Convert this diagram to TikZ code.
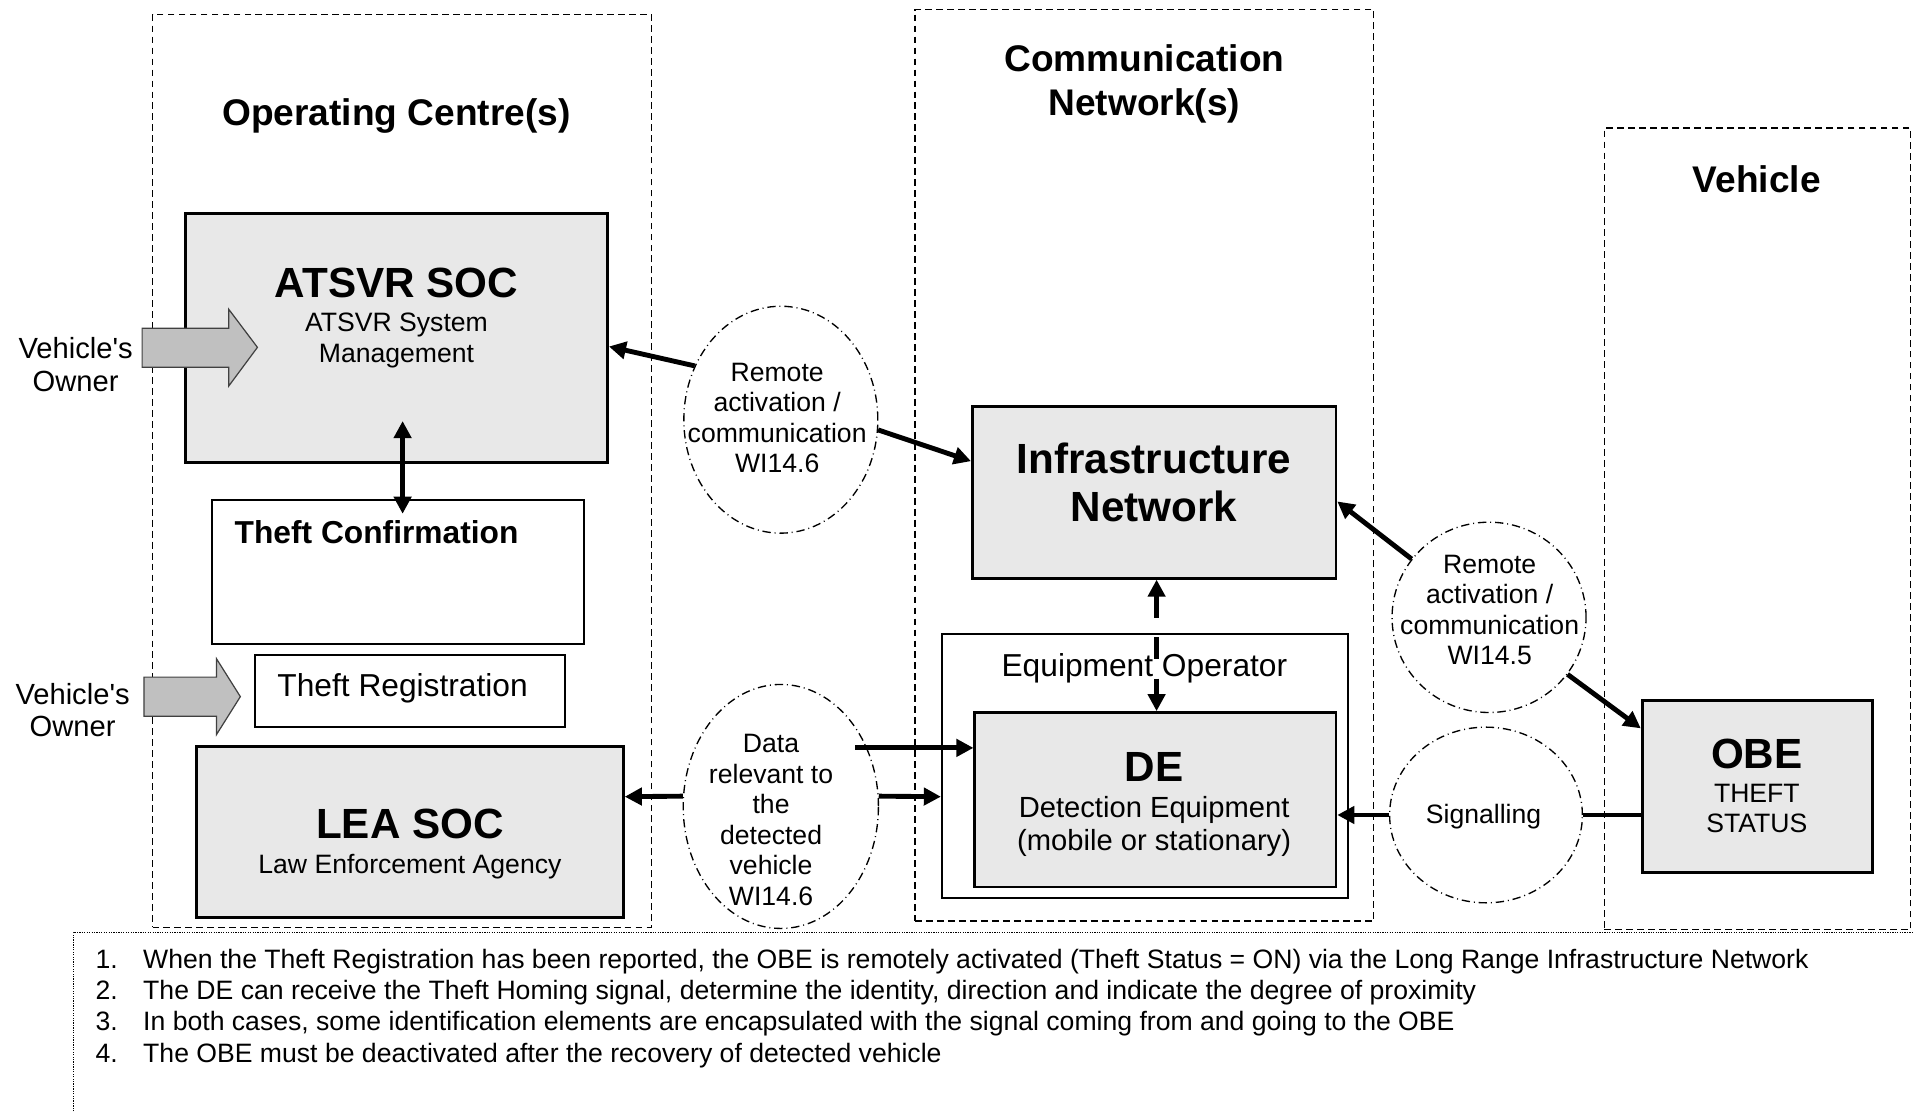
\documentclass[tikz,border=0pt]{standalone}
\usepackage{fontspec}
\setmainfont{Liberation Sans}
\usetikzlibrary{arrows.meta,shapes.geometric,fit}

\definecolor{boxgray}{HTML}{E8E8E8}
\definecolor{blockgray}{HTML}{C0C0C0}

% straight apostrophe, bypassing the TeX quote mapping
\newcommand\straightq{\XeTeXglyph\XeTeXcharglyph39\relax}

% font sizes used in the diagram
\newcommand\szA{\fontsize{10.9}{12.5}\selectfont}
\newcommand\szB{\fontsize{11.95}{13.5}\selectfont}
\newcommand\szC{\fontsize{13}{15.6}\selectfont}
\newcommand\szD{\fontsize{15.2}{18}\selectfont}
\newcommand\szE{\fontsize{17.3}{19.5}\selectfont}

\tikzset{
  region/.style={draw, line width=0.55pt, dash pattern=on 2.8pt off 1.7pt, inner sep=0pt},
  graybox/.style={draw, line width=1.1pt, fill=boxgray, inner sep=0pt},
  whitebox/.style={draw, line width=0.9pt, fill=white, inner sep=0pt},
  opbox/.style={draw, line width=0.8pt, fill=white, inner sep=0pt},
  bubble/.style={ellipse, draw, line width=0.55pt,
    dash pattern=on 3.4pt off 1.6pt on 0.4pt off 1.6pt, inner sep=0pt},
  txt/.style={inner sep=0pt, align=center},
  notetxt/.style={inner sep=0pt, font=\szA},
  link/.style={line width=2pt, -{Triangle[length=7pt,width=7pt]}},
  dlink/.style={line width=2pt, {Triangle[length=7pt,width=7pt]}-{Triangle[length=7pt,width=7pt]}},
  plainlink/.style={line width=2pt},
  blockarrow/.style={fill=blockgray, draw=black!75, line width=0.5pt},
  notesline/.style={line width=0.5pt, dash pattern=on 0.5pt off 0.5pt},
}

\begin{document}
\begin{tikzpicture}[x=0.5pt, y=-0.5pt]
\useasboundingbox (0,0) rectangle (1568,911);

% --- domains ---
\node[region, fit={(125,12)(534,760)}] (opc) {};
\node[region, fit={(750,8)(1126,755)}] (comm) {};
\node[region, fit={(1315,105)(1566,762)}] (veh) {};

\node[txt, font=\szD\bfseries] (opctitle) at (325,95) {Operating Centre(s)};
\node[txt, font=\szD\bfseries] (commtitle) at (938,69) {Communication\\Network(s)};
\node[txt, font=\szD\bfseries] (vehtitle) at (1440,147) {Vehicle};

% --- notes frame ---
\draw[notesline] (60,911) -- (60,764) -- (1568,764);

% --- system blocks ---
\node[graybox, fit={(152,175)(498,379)}] (atsvr) {};
\node[whitebox, fit={(174,410)(479,528)}] (conf) {};
\node[whitebox, fit={(209,537)(463,596)}] (reg) {};
\node[graybox, fit={(161,612)(511,752)}] (lea) {};
\node[graybox, fit={(797,333)(1095,474)}] (infra) {};
\node[opbox, fit={(772,520)(1105,736)}] (eqop) {};
\node[graybox, fit={(799,584)(1095,727)}] (de) {};
\node[graybox, fit={(1346,574)(1535,715)}] (obe) {};

\node[txt, font=\szE\bfseries] (atsvrname) at (325,232) {ATSVR SOC};
\node[txt, font=\szA] (atsvrsub) at (325,279) {ATSVR System\\Management};
\node[txt, font=\szC\bfseries, anchor=west] (conftxt) at (192,436) {Theft Confirmation};
\node[txt, font=\szC, anchor=west] (regtxt) at (227,564) {Theft Registration};
\node[txt, font=\szE\bfseries] (leaname) at (336,675) {LEA SOC};
\node[txt, font=\szA] (leasub) at (336,710) {Law Enforcement Agency};
\node[txt, font=\szE\bfseries] (infratxt) at (946,395.5) {Infrastructure\\Network};
\node[txt, font=\szC] (eqoptxt) at (938,548) {Equipment Operator};
\node[txt, font=\szE\bfseries] (dename) at (946,629) {DE};
\node[txt, font=\szB] (desub) at (946,677.5) {Detection Equipment\\(mobile or stationary)};
\node[txt, font=\szE\bfseries] (obename) at (1440,618) {OBE};
\node[txt, font=\szA] (obesub) at (1440,662.5) {THEFT\\STATUS};

% --- interfaces ---
\node[bubble, minimum width=79.5pt, minimum height=93pt] (e1) at (640,344) {};
\node[bubble, minimum width=80pt, minimum height=100pt] (e2) at (640,661) {};
\node[bubble, minimum width=79.5pt, minimum height=78pt] (e3) at (1220.5,506) {};
\node[bubble, minimum width=79pt, minimum height=72pt] (e4) at (1218,668) {};

\node[txt, font=\szA] (e1t) at (637,342.5) {Remote\\activation /\\communication\\WI14.6};
\node[txt, font=\szA] (e2t) at (632,672) {Data\\relevant to\\the\\detected\\vehicle\\WI14.6};
\node[txt, font=\szA] (e3t) at (1221,500) {Remote\\activation /\\communication\\WI14.5};
\node[txt, font=\szA] (e4t) at (1216,669) {Signalling};

% --- owner inputs ---
\draw[blockarrow] (116.5,269) -- (187.5,269) -- (187.5,253.5) -- (211,284.7)
  -- (187.5,316.4) -- (187.5,301) -- (116.5,301) -- cycle;
\draw[blockarrow] (118,555) -- (177.5,555) -- (177.5,540) -- (197,571)
  -- (177.5,602) -- (177.5,587) -- (118,587) -- cycle;
\node[txt, font=\szB] (owner1) at (62,299) {Vehicle\straightq s\\Owner};
\node[txt, font=\szB] (owner2) at (59.5,582) {Vehicle\straightq s\\Owner};

% --- connectors ---
\draw[link] (e1.148) -- ([yshift=-3.5pt]atsvr.east);
\draw[link] (e1.-6) -- ([yshift=12.75pt]infra.west);
\draw[dlink] ([xshift=2.5pt,yshift=17.5pt]atsvr.south) -- ([xshift=1.75pt,yshift=-6pt]conf.north);
\draw[link] (e2.174) -- ([yshift=14.5pt]lea.east);
\draw[link] ([xshift=30.5pt,yshift=24pt]e2.center) -- ([yshift=21.25pt]de.west);
\draw[link] (e2.6) -- ([yshift=-12.5pt]eqop.west);
\draw[dlink, dash pattern=on 9pt off 8pt] ([xshift=1pt]infra.south) -- ([xshift=0.5pt]de.north);
\draw[link] (e3.143) -- ([yshift=-3.75pt]infra.east);
\draw[link] (e3.-36.5) -- ([yshift=23.75pt]obe.west);
\draw[link] (e4.west) -- ([yshift=-6.25pt]de.east);
\draw[plainlink] (e4.east) -- ([yshift=-11.75pt]obe.west);

% --- notes ---
\node[notetxt, anchor=base west] (note1) at (78,794) {\makebox[19.5pt][l]{1.}When the Theft Registration has been reported, the OBE is remotely activated (Theft Status = ON) via the Long Range Infrastructure Network};
\node[notetxt, anchor=base west] (note2) at (78,819.5) {\makebox[19.5pt][l]{2.}The DE can receive the Theft Homing signal, determine the identity, direction and indicate the degree of proximity};
\node[notetxt, anchor=base west] (note3) at (78,845) {\makebox[19.5pt][l]{3.}In both cases, some identification elements are encapsulated with the signal coming from and going to the OBE};
\node[notetxt, anchor=base west] (note4) at (78,871) {\makebox[19.5pt][l]{4.}The OBE must be deactivated after the recovery of detected vehicle};
\end{tikzpicture}
\end{document}
